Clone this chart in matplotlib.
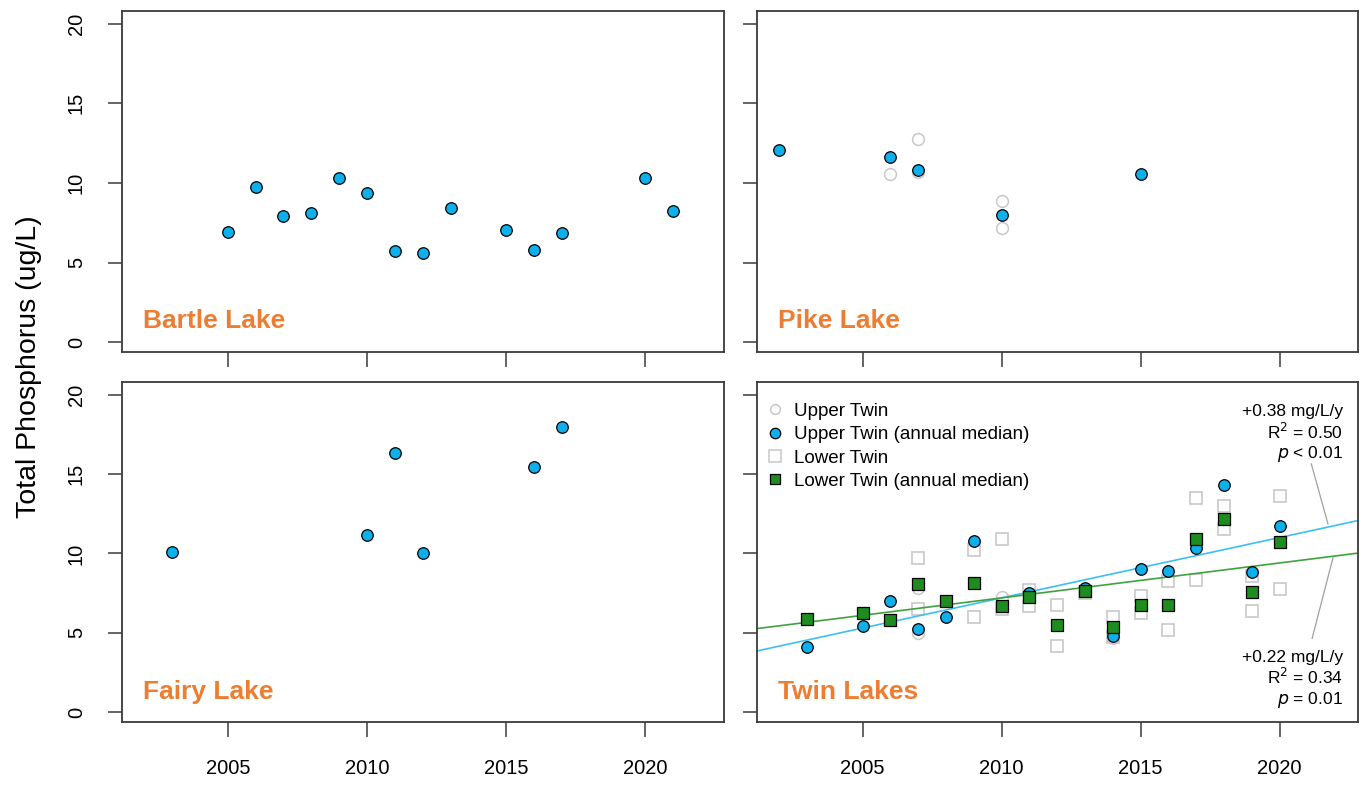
import matplotlib
matplotlib.use("Agg")
import matplotlib.pyplot as plt
import numpy as np
from matplotlib.lines import Line2D

plt.rcParams['font.family'] = ['Liberation Sans', 'DejaVu Sans']

# annual medians / samples (ug/L)
bartle_years = [2005, 2006, 2007, 2008, 2009, 2010, 2011, 2012, 2013, 2015, 2016, 2017, 2020, 2021]
bartle_tp = [6.94, 9.75, 7.95, 8.1, 10.3, 9.38, 5.72, 5.6, 8.42, 7.05, 5.8, 6.88, 10.3, 8.25]

pike_years = [2002, 2006, 2007, 2010, 2015]
pike_tp = [12.1, 11.6, 10.8, 8.0, 10.55]
pike_raw_years = [2006, 2007, 2007, 2010, 2010]
pike_raw_tp = [10.55, 12.75, 10.7, 8.85, 7.15]

fairy_years = [2003, 2010, 2011, 2012, 2016, 2017]
fairy_tp = [10.1, 11.17, 16.3, 10.03, 15.45, 17.95]

upper_years = [2003, 2005, 2006, 2007, 2008, 2009, 2011, 2012, 2013, 2014, 2015, 2016, 2017, 2018, 2019, 2020]
upper_tp = [4.12, 5.43, 7.0, 5.26, 6.0, 10.8, 7.5, 5.5, 7.8, 4.8, 9.0, 8.9, 10.36, 14.33, 8.8, 11.73]
upper_raw_years = [2007, 2007, 2010, 2014]
upper_raw_tp = [7.8, 5.0, 7.23, 4.65]

lower_years = [2003, 2005, 2006, 2007, 2008, 2009, 2010, 2011, 2012, 2013, 2014, 2015, 2016, 2017, 2018, 2019, 2020]
lower_tp = [5.88, 6.24, 5.81, 8.08, 7.02, 8.14, 6.7, 7.23, 5.5, 7.65, 5.39, 6.74, 6.74, 10.89, 12.2, 7.57, 10.72]
lower_raw_years = [2007, 2007, 2009, 2009, 2010, 2010, 2011, 2011, 2012, 2012, 2013, 2014, 2014,
                   2015, 2015, 2016, 2016, 2017, 2017, 2018, 2018, 2019, 2019, 2020, 2020]
lower_raw_tp = [9.7, 6.49, 10.2, 5.98, 10.89, 6.49, 7.72, 6.66, 6.77, 4.19, 7.5, 5.98, 4.76,
                7.34, 6.24, 8.25, 5.18, 13.51, 8.35, 13.0, 11.52, 8.6, 6.38, 13.64, 7.76]

# linear trends (slope per year, value at 2010)
upper_slope, upper_at2010 = 0.38, 7.2
lower_slope, lower_at2010 = 0.22, 7.2
upper_stats = "+0.38 mg/L/y\nR$^2$ = 0.50\n$p$ < 0.01"
lower_stats = "+0.22 mg/L/y\nR$^2$ = 0.34\n$p$ = 0.01"

BLUE = '#0EB0EC'
GREEN = '#1E8C1E'
GREY = '#C8C8C8'
ORANGE = '#ED7D31'
FRAME = '#3A3A3A'

fig = plt.figure(figsize=(13.69, 7.88), dpi=100)
W, H = 1369, 788


def box(x0, y0, x1, y1):
    return [x0 / W, 1 - y1 / H, (x1 - x0) / W, (y1 - y0) / H]


ax_b = fig.add_axes(box(122, 11, 724, 352))
ax_p = fig.add_axes(box(757, 11, 1358, 352))
ax_f = fig.add_axes(box(122, 382, 724, 722))
ax_t = fig.add_axes(box(757, 382, 1358, 722))

for ax in [ax_b, ax_p, ax_f, ax_t]:
    ax.set_xlim(2001.2, 2022.82)
    ax.set_ylim(-0.62, 20.8)
    ax.set_xticks([2005, 2010, 2015, 2020])
    ax.set_yticks([0, 5, 10, 15, 20])
    ax.tick_params(axis='both', direction='out', length=10.5, width=1.1, color=FRAME,
                   labelsize=14.5, pad=16.5)
    ax.tick_params(axis='y', labelrotation=90, length=10, pad=16)
    for lab in ax.get_yticklabels():
        lab.set_va('center')
    for s in ax.spines.values():
        s.set_color(FRAME)
        s.set_linewidth(1.3)

for ax in [ax_b, ax_p]:
    ax.tick_params(axis='x', labelbottom=False)
for ax in [ax_p, ax_t]:
    ax.tick_params(axis='y', labelleft=False)

dot = dict(marker='o', ms=8.3, mfc=BLUE, mec='black', mew=0.9, ls='none')

ax_b.plot(bartle_years, bartle_tp, **dot)

ax_p.plot(pike_raw_years, pike_raw_tp, marker='o', ms=8.5, mfc='white', mec=GREY, mew=1.1, ls='none')
ax_p.plot(pike_years, pike_tp, **dot)

ax_f.plot(fairy_years, fairy_tp, **dot)

# Twin Lakes: raw samples, trend lines, then medians
ax_t.plot(lower_raw_years, lower_raw_tp, marker='s', ms=9, mfc='none', mec=GREY, mew=1.2, ls='none')
ax_t.plot(upper_raw_years, upper_raw_tp, marker='o', ms=8.5, mfc='none', mec=GREY, mew=1.1, ls='none')
xx = np.array([2001.2, 2022.82])
ax_t.plot(xx, upper_at2010 + upper_slope * (xx - 2010), color='#3CC0F2', lw=1.2)
ax_t.plot(xx, lower_at2010 + lower_slope * (xx - 2010), color='#3FA23F', lw=1.2)
ax_t.plot(upper_years, upper_tp, **dot)
ax_t.plot(lower_years, lower_tp, marker='s', ms=8.3, mfc=GREEN, mec='black', mew=0.9, ls='none')

# leader lines to the trend statistics
ax_t.plot([2021.14, 2021.74], [15.64, upper_at2010 + upper_slope * 11.74 + 0.2], color='#A0A0A0', lw=0.9)
ax_t.plot([2021.92, 2021.17], [lower_at2010 + lower_slope * 11.92 - 0.1, 4.65], color='#A0A0A0', lw=0.9)
ax_t.text(2022.28, 17.5, upper_stats, ha='right', va='center', fontsize=12.5, linespacing=1.15)
ax_t.text(2022.28, 2.05, lower_stats, ha='right', va='center', fontsize=12.5, linespacing=1.15)

handles = [
    Line2D([], [], marker='o', ms=7, mfc='none', mec=GREY, mew=1.1, ls='none'),
    Line2D([], [], marker='o', ms=7.5, mfc=BLUE, mec='black', mew=0.9, ls='none'),
    Line2D([], [], marker='s', ms=8, mfc='none', mec=GREY, mew=1.1, ls='none'),
    Line2D([], [], marker='s', ms=7.5, mfc=GREEN, mec='black', mew=0.9, ls='none'),
]
labels = ['Upper Twin', 'Upper Twin (annual median)', 'Lower Twin', 'Lower Twin (annual median)']
ax_t.legend(handles, labels, loc='upper left', bbox_to_anchor=(0.0, 1 - 11.5 / 340), frameon=False,
            fontsize=13.5, handlelength=0.9, handletextpad=0.55, labelspacing=0.33,
            borderaxespad=0.3, borderpad=0.2)

for ax, name in [(ax_b, 'Bartle Lake'), (ax_p, 'Pike Lake'), (ax_f, 'Fairy Lake'), (ax_t, 'Twin Lakes')]:
    ax.text(2001.95, 1.3, name, color=ORANGE, fontsize=19, fontweight='bold', ha='left', va='center')

fig.text(0.021, 1 - 366.5 / H, 'Total Phosphorus (ug/L)', rotation=90, ha='center', va='center',
         fontsize=20.5)

fig.savefig('out.png', dpi=100)
